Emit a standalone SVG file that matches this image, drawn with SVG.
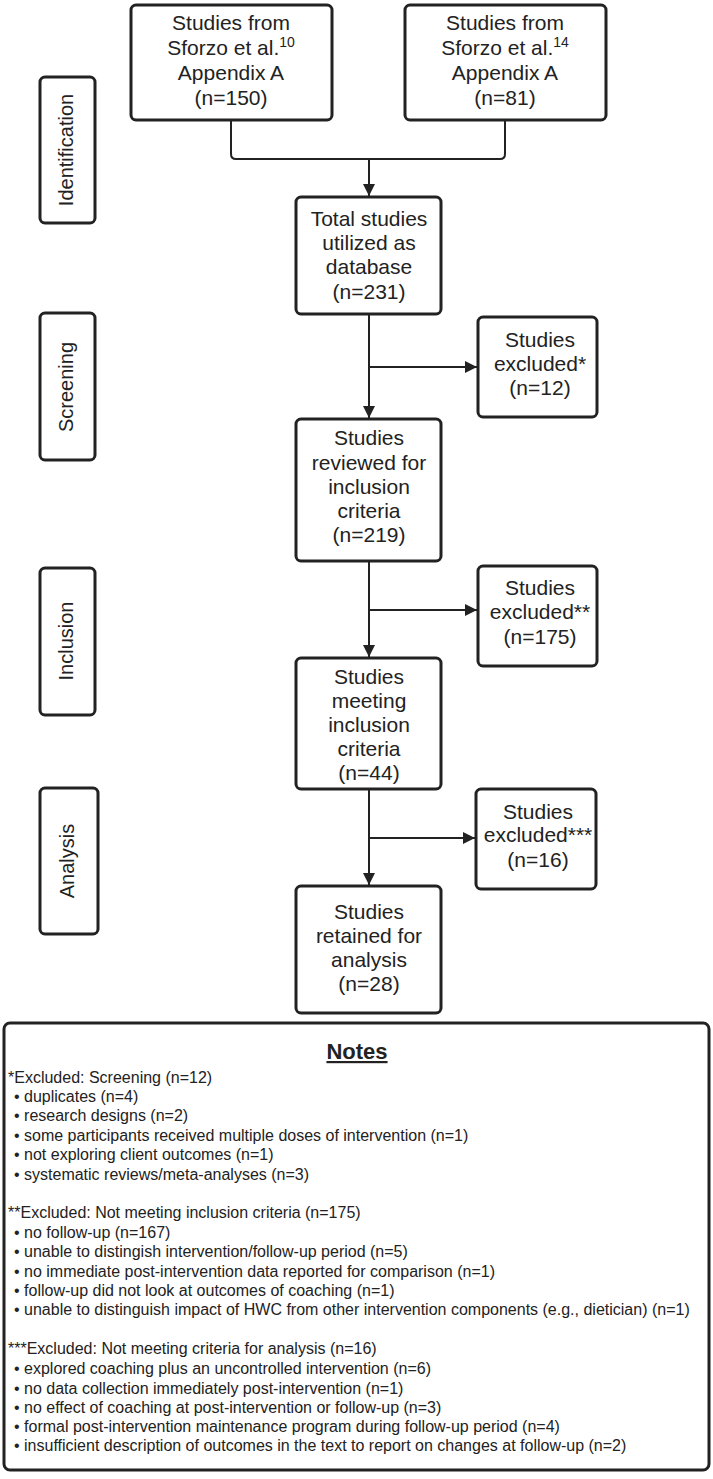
<svg xmlns="http://www.w3.org/2000/svg" width="713" height="1479" viewBox="0 0 713 1479">
<defs>
<style>
.box{fill:#fff;stroke:#222;stroke-width:3}
.t{font-family:"Liberation Sans",Arial,sans-serif;font-size:21px;fill:#222;text-anchor:middle}
.lab{font-family:"Liberation Sans",Arial,sans-serif;font-size:20px;fill:#222;text-anchor:middle}
.n{font-family:"Liberation Sans",Arial,sans-serif;font-size:16px;fill:#222}
.c{fill:none;stroke:#222;stroke-width:2}
</style>
<marker id="ah" viewBox="0 0 10 10" refX="10" refY="5" markerWidth="6" markerHeight="6" markerUnits="strokeWidth" orient="auto">
<path d="M0,0 L10,5 L0,10 z" fill="#222"/>
</marker>
</defs>
<rect width="713" height="1479" fill="#fff"/>

<g id="connectors">
<path class="c" d="M231,120 V154 Q231,159 236,159 H500 Q505,159 505,154 V120"/>
<path class="c" d="M369,159 V196" marker-end="url(#ah)"/>
<path class="c" d="M369,314 V418" marker-end="url(#ah)"/>
<path class="c" d="M369,367 H477" marker-end="url(#ah)"/>
<path class="c" d="M369,561 V657" marker-end="url(#ah)"/>
<path class="c" d="M369,610 H477" marker-end="url(#ah)"/>
<path class="c" d="M369,789 V885" marker-end="url(#ah)"/>
<path class="c" d="M369,838 H475" marker-end="url(#ah)"/>
</g>

<g id="label-identification">
<rect class="box" x="40" y="77" width="55" height="146" rx="5"/>
<text class="lab" transform="translate(73,150) rotate(-90)">Identification</text>
</g>
<g id="label-screening">
<rect class="box" x="40" y="313" width="55" height="147" rx="5"/>
<text class="lab" transform="translate(73,387) rotate(-90)">Screening</text>
</g>
<g id="label-inclusion">
<rect class="box" x="40" y="568" width="55" height="147" rx="5"/>
<text class="lab" transform="translate(73,641) rotate(-90)">Inclusion</text>
</g>
<g id="label-analysis">
<rect class="box" x="40" y="788" width="58" height="146" rx="5"/>
<text class="lab" transform="translate(74,861) rotate(-90)">Analysis</text>
</g>

<g id="node-sforzo10">
<rect class="box" x="131" y="5" width="201" height="115" rx="5"/>
<text class="t" x="231" y="30">Studies from</text>
<text class="t" x="231" y="55">Sforzo et al.<tspan font-size="14" dy="-8">10</tspan></text>
<text class="t" x="231" y="80">Appendix A</text>
<text class="t" x="231" y="105">(n=150)</text>
</g>
<g id="node-sforzo14">
<rect class="box" x="405" y="5" width="201" height="115" rx="5"/>
<text class="t" x="505" y="30">Studies from</text>
<text class="t" x="505" y="55">Sforzo et al.<tspan font-size="14" dy="-8">14</tspan></text>
<text class="t" x="505" y="80">Appendix A</text>
<text class="t" x="505" y="105">(n=81)</text>
</g>
<g id="node-total">
<rect class="box" x="296" y="197" width="145" height="117" rx="5"/>
<text class="t" x="369" y="226">Total studies</text>
<text class="t" x="369" y="250">utilized as</text>
<text class="t" x="369" y="274">database</text>
<text class="t" x="369" y="299">(n=231)</text>
</g>
<g id="node-excl1">
<rect class="box" x="478" y="317" width="119" height="100" rx="5"/>
<text class="t" x="540" y="347">Studies</text>
<text class="t" x="540" y="371">excluded*</text>
<text class="t" x="540" y="395">(n=12)</text>
</g>
<g id="node-reviewed">
<rect class="box" x="296" y="419" width="145" height="142" rx="5"/>
<text class="t" x="369" y="445">Studies</text>
<text class="t" x="369" y="470">reviewed for</text>
<text class="t" x="369" y="494">inclusion</text>
<text class="t" x="369" y="518">criteria</text>
<text class="t" x="369" y="542">(n=219)</text>
</g>
<g id="node-excl2">
<rect class="box" x="478" y="566" width="119" height="100" rx="5"/>
<text class="t" x="540" y="595">Studies</text>
<text class="t" x="540" y="619">excluded**</text>
<text class="t" x="540" y="644">(n=175)</text>
</g>
<g id="node-meeting">
<rect class="box" x="296" y="658" width="145" height="131" rx="5"/>
<text class="t" x="369" y="684">Studies</text>
<text class="t" x="369" y="708">meeting</text>
<text class="t" x="369" y="732">inclusion</text>
<text class="t" x="369" y="756">criteria</text>
<text class="t" x="369" y="780">(n=44)</text>
</g>
<g id="node-excl3">
<rect class="box" x="476" y="789" width="120" height="100" rx="5"/>
<text class="t" x="538" y="819">Studies</text>
<text class="t" x="538" y="842">excluded***</text>
<text class="t" x="538" y="867">(n=16)</text>
</g>
<g id="node-retained">
<rect class="box" x="296" y="886" width="145" height="127" rx="5"/>
<text class="t" x="369" y="919">Studies</text>
<text class="t" x="369" y="943">retained for</text>
<text class="t" x="369" y="967">analysis</text>
<text class="t" x="369" y="991">(n=28)</text>
</g>

<g id="notes">
<rect class="box" x="4" y="1023" width="705" height="447" rx="6"/>
<text x="357" y="1059" font-family="Liberation Sans,Arial,sans-serif" font-size="22" font-weight="bold" fill="#222" text-anchor="middle" text-decoration="underline">Notes</text>
<text class="n" x="8" y="1083">*Excluded: Screening (n=12)</text>
<text class="n" x="14" y="1102">• duplicates (n=4)</text>
<text class="n" x="14" y="1121">• research designs (n=2)</text>
<text class="n" x="14" y="1141">• some participants received multiple doses of intervention (n=1)</text>
<text class="n" x="14" y="1160">• not exploring client outcomes (n=1)</text>
<text class="n" x="14" y="1180">• systematic reviews/meta-analyses (n=3)</text>
<text class="n" x="8" y="1218">**Excluded: Not meeting inclusion criteria (n=175)</text>
<text class="n" x="14" y="1238">• no follow-up (n=167)</text>
<text class="n" x="14" y="1257">• unable to distingish intervention/follow-up period (n=5)</text>
<text class="n" x="14" y="1277">• no immediate post-intervention data reported for comparison (n=1)</text>
<text class="n" x="14" y="1296">• follow-up did not look at outcomes of coaching (n=1)</text>
<text class="n" x="14" y="1315">• unable to distinguish impact of HWC from other intervention components (e.g., dietician) (n=1)</text>
<text class="n" x="8" y="1354">***Excluded: Not meeting criteria for analysis (n=16)</text>
<text class="n" x="14" y="1374">• explored coaching plus an uncontrolled intervention (n=6)</text>
<text class="n" x="14" y="1394">• no data collection immediately post-intervention (n=1)</text>
<text class="n" x="14" y="1413">• no effect of coaching at post-intervention or follow-up (n=3)</text>
<text class="n" x="14" y="1432">• formal post-intervention maintenance program during follow-up period (n=4)</text>
<text class="n" x="14" y="1451">• insufficient description of outcomes in the text to report on changes at follow-up (n=2)</text>
</g>
</svg>
